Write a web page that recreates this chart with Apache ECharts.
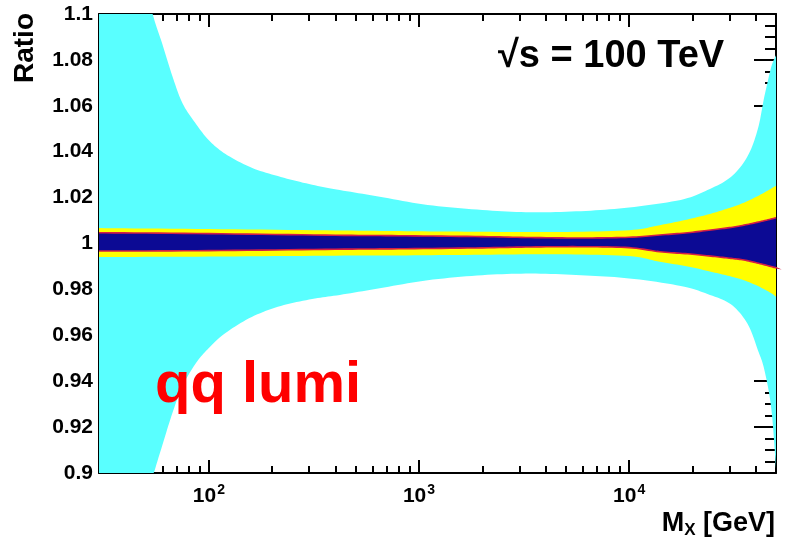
<!DOCTYPE html>
<html>
<head>
<meta charset="utf-8">
<script src="https://cdn.jsdelivr.net/npm/echarts@6/dist/echarts.min.js"></script>
<style>html,body{margin:0;padding:0;background:#fff;}#c{width:790px;height:539px;}</style>
</head>
<body>
<div id="c"></div>
<script>
// ---- data ----
const cyanM  = [30, 40, 48, 54, 60, 67, 75, 87, 100, 120, 160, 220, 310, 420, 650, 1100, 2000, 3400, 5900, 10000, 17600, 23600, 30500, 36600, 41000, 44000, 47500, 50000];
const cyanHi = [1.25, 1.16, 1.12, 1.100, 1.087, 1.073, 1.061, 1.052, 1.045, 1.039, 1.033, 1.029, 1.0256, 1.0233, 1.0204, 1.0168, 1.0146, 1.0136, 1.0141, 1.0157, 1.019, 1.0233, 1.029, 1.038, 1.050, 1.064, 1.077, 1.082];
const cyanLo = [0.75, 0.84, 0.88, 0.898, 0.912, 0.926, 0.938, 0.948, 0.9545, 0.961, 0.968, 0.9728, 0.9758, 0.9776, 0.9805, 0.984, 0.9862, 0.9869, 0.9862, 0.9848, 0.9815, 0.978, 0.9735, 0.965, 0.9535, 0.945, 0.928, 0.902];

const yelM  = [30, 100, 400, 800, 2000, 4700, 10000, 14000, 19000, 24500, 30000, 35200, 42000, 49000, 50000];
const yelHi = [1.0067, 1.0063, 1.0057, 1.0054, 1.0051, 1.0050, 1.0058, 1.0080, 1.0105, 1.0130, 1.0155, 1.0178, 1.0212, 1.0247, 1.0252];
const yelLo = [0.9941, 0.9943, 0.9947, 0.9948, 0.9951, 0.9953, 0.9945, 0.9920, 0.9900, 0.9877, 0.9858, 0.9840, 0.9810, 0.9775, 0.9760];

const navM  = [30, 100, 400, 800, 2000, 3400, 6000, 10000, 14000, 19000, 24500, 30000, 35200, 42000, 49000, 50000];
const navHi = [1.0047, 1.0043, 1.0036, 1.0034, 1.0030, 1.0026, 1.0024, 1.0027, 1.0037, 1.0047, 1.0059, 1.0069, 1.0080, 1.0095, 1.0110, 1.0112];
const navLo = [0.9967, 0.9969, 0.9975, 0.9977, 0.9981, 0.9985, 0.9986, 0.9982, 0.9964, 0.9955, 0.9945, 0.9936, 0.9928, 0.9912, 0.9896, 0.9894];

const xMajorTicks = [100, 1000, 10000];
const xMinorTicks = [40, 50, 60, 70, 80, 90, 200, 300, 400, 500, 600, 700, 800, 900, 2000, 3000, 4000, 5000, 6000, 7000, 8000, 9000, 20000, 30000, 40000];
const yTickLabels = ['0.9', '0.92', '0.94', '0.96', '0.98', '1', '1.02', '1.04', '1.06', '1.08', '1.1'];

const FONT = 'Liberation Sans';

// smooth a pixel-space polyline (cubic Hermite / Catmull-Rom, drawing only)
function smoothPx(p, steps) {
  const out = [];
  for (let i = 0; i < p.length - 1; i++) {
    const p0 = p[Math.max(i - 1, 0)], p1 = p[i], p2 = p[i + 1], p3 = p[Math.min(i + 2, p.length - 1)];
    for (let s = 0; s < steps; s++) {
      const t = s / steps, t2 = t * t, t3 = t2 * t;
      const h00 = 2 * t3 - 3 * t2 + 1, h10 = t3 - 2 * t2 + t, h01 = -2 * t3 + 3 * t2, h11 = t3 - t2;
      const m1 = [(p2[0] - p0[0]) / 2, (p2[1] - p0[1]) / 2];
      const m2 = [(p3[0] - p1[0]) / 2, (p3[1] - p1[1]) / 2];
      out.push([h00 * p1[0] + h10 * m1[0] + h01 * p2[0] + h11 * m2[0],
                h00 * p1[1] + h10 * m1[1] + h01 * p2[1] + h11 * m2[1]]);
    }
  }
  out.push(p[p.length - 1]);
  return out;
}

function band(name, M, hi, lo, fill, edge, lw) {
  const data = M.map((m, i) => [m, hi[i], lo[i]]);
  return {
    name: name, type: 'custom', coordinateSystem: 'cartesian2d',
    xAxisIndex: 0, yAxisIndex: 0, silent: true, data: data,
    encode: { x: 0, y: [1, 2] },
    renderItem: function (params, api) {
      if (params.dataIndex !== 0) return null;
      const n = data.length, top = [], bot = [];
      for (let i = 0; i < n; i++) {
        top.push(api.coord([api.value(0, i), api.value(1, i)]));
        bot.push(api.coord([api.value(0, i), api.value(2, i)]));
      }
      const cs = params.coordSys;
      const rect = { x: cs.x, y: cs.y, width: cs.width, height: cs.height };
      const sTop = echarts.graphic.clipPointsByRect(smoothPx(top, 10), rect);
      const sBot = echarts.graphic.clipPointsByRect(smoothPx(bot, 10), rect);
      const children = [{ type: 'polygon', shape: { points: sTop.concat(sBot.slice().reverse()) },
        style: { fill: fill } }];
      if (edge) {
        children.push({ type: 'polyline', shape: { points: sTop }, style: { stroke: edge, lineWidth: lw, fill: null } });
        children.push({ type: 'polyline', shape: { points: sBot }, style: { stroke: edge, lineWidth: lw, fill: null } });
      }
      return { type: 'group', children: children };
    }
  };
}

function xAxisDef(pos, major, showLabel) {
  return {
    type: 'log', min: 30, max: 50000, position: pos,
    axisLine: { show: major, onZero: false, lineStyle: { color: '#000', width: 2 } },
    axisTick: { show: true, inside: true, length: major ? 13 : 7,
      customValues: major ? xMajorTicks : xMinorTicks,
      lineStyle: { color: '#000', width: 2 } },
    axisLabel: showLabel ? {
      show: true, customValues: xMajorTicks, margin: 11,
      formatter: function (v) { return '{b|10}{s|' + Math.round(Math.log10(v)) + '}'; },
      rich: {
        b: { fontFamily: FONT, fontWeight: 'bold', fontSize: 21, color: '#000', lineHeight: 24 },
        s: { fontFamily: FONT, fontWeight: 'bold', fontSize: 14, color: '#000', lineHeight: 24, padding: [0, 0, 12, 1] }
      }
    } : { show: false },
    splitLine: { show: false }, minorTick: { show: false }
  };
}

function yAxisDef(pos, showLabel) {
  return {
    type: 'value', min: 0.9, max: 1.1, interval: 0.02, position: pos,
    axisLine: { show: true, onZero: false, lineStyle: { color: '#000', width: 2 } },
    axisTick: { show: true, inside: true, length: 22, lineStyle: { color: '#000', width: 2 } },
    minorTick: { show: true, splitNumber: 4, length: 11, lineStyle: { color: '#000', width: 2 } },
    axisLabel: showLabel ? {
      show: true, margin: 6, fontFamily: FONT, fontWeight: 'bold', fontSize: 21, color: '#000',
      formatter: function (v) {
        const idx = Math.round((v - 0.9) / 0.02);
        return yTickLabels[idx] !== undefined ? yTickLabels[idx] : '';
      }
    } : { show: false },
    splitLine: { show: false }, minorSplitLine: { show: false }
  };
}

const chart = echarts.init(document.getElementById('c'), null, { renderer: 'canvas' });
chart.setOption({
  animation: false,
  backgroundColor: '#fff',
  grid: { left: 99, right: 14, top: 14, bottom: 66 },
  xAxis: [
    xAxisDef('bottom', true, true),
    xAxisDef('bottom', false, false),
    xAxisDef('top', true, false),
    xAxisDef('top', false, false)
  ],
  yAxis: [yAxisDef('left', true), yAxisDef('right', false)],
  series: [
    band('cyan', cyanM, cyanHi, cyanLo, '#59ffff'),
    band('yellow', yelM, yelHi, yelLo, '#ffff00'),
    band('navy', navM, navHi, navLo, '#0c0a94', '#d41e46', 1.6)
  ],
  graphic: [
    { type: 'text', x: 25, y: 13, rotation: Math.PI / 2, z: 100,
      style: { text: 'Ratio', fontFamily: FONT, fontWeight: 'bold', fontSize: 28, fill: '#000',
        align: 'right', verticalAlign: 'middle' } },
    { type: 'text', x: 498, y: 57, z: 100,
      style: { text: '√s = 100 TeV', fontFamily: FONT, fontWeight: 'bold', fontSize: 38, fill: '#000',
        align: 'left', verticalAlign: 'middle' } },
    { type: 'text', x: 155, y: 386, z: 100,
      style: { text: 'qq lumi', fontFamily: FONT, fontWeight: 'bold', fontSize: 58, fill: '#ff0000',
        align: 'left', verticalAlign: 'middle' } },
    { type: 'text', x: 775, y: 524, z: 100,
      style: { text: '{m|M}{x|X}{m| [GeV]}', align: 'right', verticalAlign: 'middle',
        rich: {
          m: { fontFamily: FONT, fontWeight: 'bold', fontSize: 27, fill: '#000', lineHeight: 30 },
          x: { fontFamily: FONT, fontWeight: 'bold', fontSize: 17, fill: '#000', lineHeight: 30, padding: [12, 0, 0, 0] }
        } } }
  ]
});
</script>
</body>
</html>
